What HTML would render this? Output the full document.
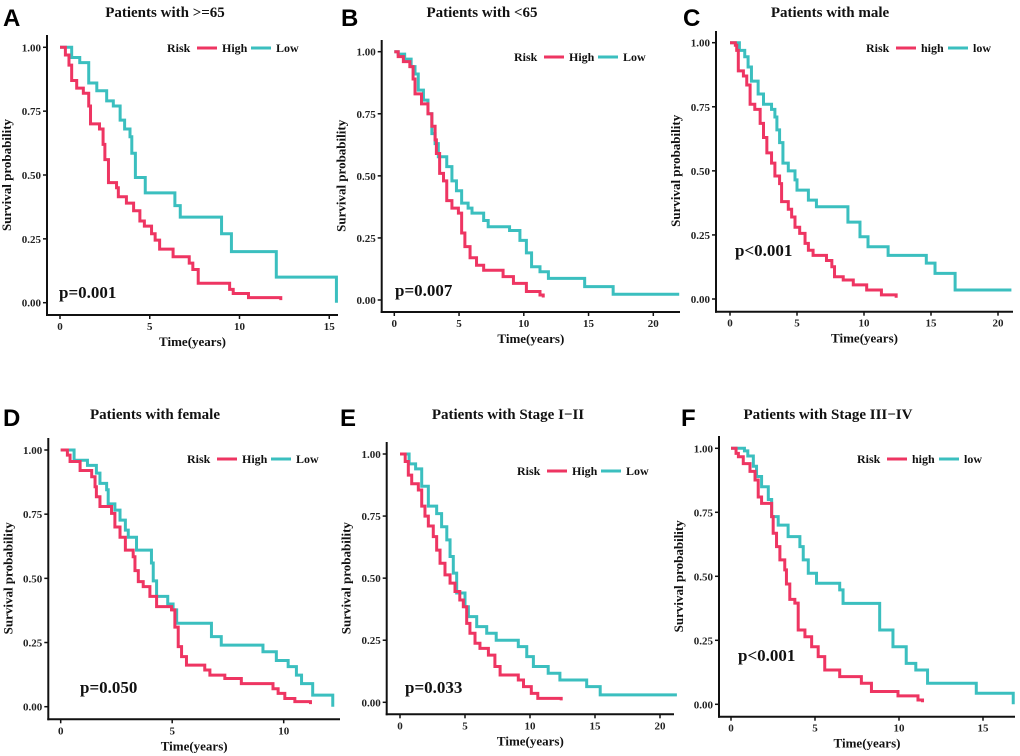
<!DOCTYPE html>
<html><head><meta charset="utf-8">
<style>
html,body{margin:0;padding:0;background:#fff;}
svg{display:block;font-family:"Liberation Serif",serif;}
.tk{font-size:11px;font-weight:bold;fill:#222;}
.ttl{font-size:15px;font-weight:bold;fill:#111;}
.lab{font-size:13px;font-weight:bold;fill:#111;}
.lg{font-size:12px;font-weight:bold;fill:#111;}
.pv{font-size:17px;font-weight:bold;fill:#111;}
.let{font-family:"Liberation Sans",sans-serif;font-size:24px;font-weight:bold;fill:#000;}
</style></head>
<body>
<svg id="fig" width="1020" height="756" viewBox="0 0 1020 756" xmlns="http://www.w3.org/2000/svg"></svg>
<script>
// ---- data (time of drop, survival after drop), last entry = end of follow-up ----
const aHighT=[0,0.3,0.5,0.65,0.93,1.3,1.6,1.7,2.2,2.4,2.5,2.7,3.15,3.25,3.7,4.1,4.45,4.7,5.1,5.3,5.55,6.3,7.2,7.4,7.7,9.45,9.65,10.5,12.3];
const aHighS=[1,0.97,0.93,0.87,0.84,0.82,0.77,0.70,0.68,0.62,0.56,0.47,0.45,0.415,0.39,0.36,0.32,0.30,0.27,0.245,0.21,0.18,0.155,0.13,0.076,0.052,0.036,0.02,0.01];
const aLowT=[0,0.65,1.1,1.6,2.05,2.6,2.97,3.35,3.6,3.9,4.0,4.2,4.75,6.4,6.7,9.0,9.55,12.05,15.4];
const aLowS=[1,0.96,0.94,0.86,0.83,0.79,0.77,0.715,0.68,0.65,0.585,0.49,0.43,0.38,0.335,0.27,0.20,0.10,0];
const bHighT=[0,0.3,0.7,1.2,1.45,1.6,2.1,2.6,2.9,3.15,3.25,3.5,3.8,4.05,4.45,4.95,5.2,5.45,5.85,6.35,6.9,8.4,9.2,10.2,11.25,11.5];
const bHighS=[1,0.98,0.96,0.94,0.89,0.83,0.79,0.75,0.70,0.645,0.59,0.51,0.48,0.40,0.37,0.35,0.27,0.215,0.17,0.14,0.12,0.094,0.067,0.034,0.02,0.01];
const bLowT=[0,0.3,0.8,1.3,1.6,1.85,2.25,2.6,2.9,3.15,3.4,4.05,4.45,4.8,5.2,5.7,6.0,6.9,7.25,8.9,9.7,10.2,10.6,11.25,11.9,14.7,16.9,22];
const bLowS=[1,0.99,0.97,0.94,0.91,0.845,0.805,0.75,0.67,0.63,0.577,0.537,0.48,0.44,0.39,0.37,0.35,0.32,0.295,0.28,0.24,0.19,0.134,0.114,0.087,0.054,0.023,0.023];
const cHighT=[0,0.4,0.5,0.62,1.0,1.25,1.5,1.85,2.25,2.5,2.75,3.1,3.35,3.7,3.85,4.35,4.6,4.85,5.2,5.6,5.85,6.2,7.2,7.6,7.8,8.45,9.2,10.2,11.3,12.4];
const cHighS=[1,0.99,0.97,0.89,0.87,0.835,0.76,0.74,0.685,0.63,0.57,0.53,0.48,0.45,0.38,0.35,0.32,0.28,0.256,0.217,0.19,0.17,0.15,0.126,0.087,0.074,0.055,0.035,0.016,0.005];
const cLowT=[0,0.7,1.1,1.35,1.6,2.1,2.5,3.1,3.35,3.5,3.7,3.95,4.35,4.85,5.0,5.85,6.45,8.8,9.7,10.3,11.8,14.65,15.3,16.8,21];
const cLowS=[1,0.97,0.945,0.905,0.85,0.80,0.76,0.74,0.71,0.66,0.61,0.53,0.50,0.465,0.425,0.386,0.36,0.30,0.243,0.204,0.17,0.14,0.10,0.035,0.035];
const dHighT=[0,0.3,0.42,0.87,1.39,1.54,1.6,1.76,2.28,2.43,2.66,2.9,3.25,3.33,3.48,3.7,4.0,4.3,4.97,5.12,5.27,5.42,5.64,6.46,6.69,7.36,8.1,9.52,9.75,10.05,10.5,11.2];
const dHighS=[1,0.98,0.955,0.92,0.896,0.857,0.818,0.78,0.753,0.70,0.66,0.61,0.584,0.53,0.487,0.468,0.43,0.39,0.377,0.31,0.234,0.195,0.162,0.143,0.123,0.11,0.09,0.07,0.052,0.032,0.02,0.01];
const dLowT=[0,0.6,1.2,1.6,1.76,2.06,2.13,2.43,2.66,2.9,3.03,3.4,4.07,4.15,4.3,4.8,5.04,5.2,6.76,7.2,9.07,9.67,10.2,10.57,10.8,11.3,12.2];
const dLowS=[1,0.96,0.94,0.91,0.87,0.845,0.79,0.766,0.727,0.688,0.66,0.61,0.56,0.49,0.43,0.40,0.377,0.325,0.273,0.24,0.214,0.18,0.156,0.123,0.09,0.045,0];
const eHighT=[0,0.4,0.64,0.9,1.41,1.67,1.92,2.18,2.56,2.82,3.08,3.46,3.85,4.23,4.6,4.87,5.13,5.38,5.77,6.15,6.8,7.3,7.7,9.1,9.5,10.1,10.6,12.4];
const eHighS=[1,0.97,0.915,0.88,0.855,0.79,0.75,0.71,0.667,0.613,0.56,0.513,0.48,0.446,0.412,0.385,0.318,0.278,0.238,0.217,0.19,0.144,0.11,0.09,0.063,0.036,0.016,0.008];
const eLowT=[0,0.7,1.2,1.67,2.18,2.82,3.2,3.6,3.85,4.1,4.36,5.0,5.26,5.9,6.67,7.4,9.1,9.75,10.26,11.4,12.3,14.36,15.4,21.3];
const eLowS=[1,0.96,0.94,0.87,0.79,0.76,0.707,0.654,0.587,0.52,0.44,0.385,0.345,0.305,0.278,0.25,0.224,0.184,0.144,0.117,0.09,0.063,0.03,0.03];
const fHighT=[0,0.3,0.44,0.73,1.13,1.43,1.62,1.82,2.42,2.51,2.71,2.91,3.2,3.3,3.5,3.8,4.0,4.4,4.8,5.19,5.58,6.47,7.76,8.36,9.94,11.13,11.4];
const fHighS=[1,0.98,0.967,0.94,0.91,0.876,0.81,0.785,0.733,0.668,0.616,0.564,0.525,0.47,0.41,0.395,0.29,0.264,0.225,0.186,0.134,0.108,0.082,0.05,0.033,0.017,0.008];
const fLowT=[0,0.8,1.0,1.33,1.52,1.82,2.22,2.42,2.81,3.4,4.1,4.3,4.6,5.09,6.47,6.67,8.85,9.64,10.43,11.0,11.7,14.6,16.8];
const fLowS=[1,0.99,0.97,0.93,0.89,0.85,0.80,0.733,0.70,0.655,0.616,0.564,0.512,0.473,0.447,0.394,0.29,0.225,0.16,0.134,0.082,0.043,0];
const yTicks=[0,0.25,0.5,0.75,1];
const xTicksA=[0,5,10,15], xTicksB=[0,5,10,15,20], xTicksD=[0,5,10];

const panels=[
 {id:'a',letter:'A',title:'Patients with >=65',lx:3,ly:26,tx:165,ty:17,ax:47,ay0:35,axR:338,xa:315,y1:47.3,y0:302.7,x0:60,pxy:17.95,ticks:xTicksA,hi:[aHighT,aHighS],lo:[aLowT,aLowS],leg:[167,52],lg:['High','Low'],pv:'p=0.001',pvx:59,pvy:298},
 {id:'b',letter:'B',title:'Patients with <65',lx:341,ly:26,tx:482,ty:17,ax:381.7,ay0:40,axR:680,xa:312,y1:51.7,y0:300,x0:394.3,pxy:12.95,ticks:xTicksB,hi:[bHighT,bHighS],lo:[bLowT,bLowS],leg:[514,61],lg:['High','Low'],pv:'p=0.007',pvx:395,pvy:296},
 {id:'c',letter:'C',title:'Patients with  male',lx:683,ly:26,tx:830,ty:17,ax:716,ay0:31,axR:1013,xa:311.7,y1:42.7,y0:299,x0:730,pxy:13.4,ticks:xTicksB,hi:[cHighT,cHighS],lo:[cLowT,cLowS],leg:[866,52],lg:['high','low'],pv:'p<0.001',pvx:735,pvy:256},
 {id:'d',letter:'D',title:'Patients with  female',lx:3,ly:426,tx:155,ty:419,ax:48.3,ay0:438,axR:340,xa:719.3,y1:450,y0:706.7,x0:60.7,pxy:22.3,ticks:xTicksD,hi:[dHighT,dHighS],lo:[dLowT,dLowS],leg:[187,463],lg:['High','Low'],pv:'p=0.050',pvx:80,pvy:693},
 {id:'e',letter:'E',title:'Patients with Stage  I\u2212II',lx:340,ly:426,tx:508,ty:419,ax:386.7,ay0:442,axR:674,xa:714.3,y1:454,y0:702.3,x0:400,pxy:13,ticks:xTicksB,hi:[eHighT,eHighS],lo:[eLowT,eLowS],leg:[517,475],lg:['High','Low'],pv:'p=0.033',pvx:405,pvy:693},
 {id:'f',letter:'F',title:'Patients with Stage  III\u2212IV',lx:681,ly:426,tx:828,ty:419,ax:719,ay0:436,axR:1015,xa:716.7,y1:448.3,y0:704.3,x0:731,pxy:16.8,ticks:xTicksA,hi:[fHighT,fHighS],lo:[fLowT,fLowS],leg:[857,463],lg:['high','low'],pv:'p<0.001',pvx:738,pvy:661}
];
const RED='#EE3562', TEAL='#3BBFBF';
const NS='http://www.w3.org/2000/svg';
const fig=document.getElementById('fig');
function mk(tag,attrs,parent,txt){const e=document.createElementNS(NS,tag);for(const k in attrs)e.setAttribute(k,attrs[k]);if(txt!==undefined)e.textContent=txt;(parent||fig).appendChild(e);return e;}

panels.forEach(p=>{
  const g=mk('g',{});
  
  
  const X=t=>p.x0+t*p.pxy, Y=s=>p.y0-(p.y0-p.y1)*s;
  const L=mk('text',{x:p.lx,y:p.ly,class:'let'},g,p.letter);
  
  
  const T=mk('text',{x:p.tx,y:p.ty,class:'ttl','text-anchor':'middle'},g,p.title);
  
  
  const ya=mk('line',{x1:p.ax,y1:p.ay0,x2:p.ax,y2:p.xa+1,stroke:'#111','stroke-width':2},g);
  
  
  const xa=mk('line',{x1:p.ax-1,y1:p.xa,x2:p.axR,y2:p.xa,stroke:'#111','stroke-width':2},g);
  
  
  yTicks.forEach(v=>{
    mk('line',{x1:p.ax-4,x2:p.ax,y1:Y(v),y2:Y(v),stroke:'#111','stroke-width':1.5},g);
    const t=mk('text',{x:p.ax-6,y:Y(v)+4,class:'tk','text-anchor':'end'},g,v.toFixed(2));
    
    
  });
  p.ticks.forEach(v=>{
    mk('line',{x1:X(v),x2:X(v),y1:p.xa,y2:p.xa+4,stroke:'#111','stroke-width':1.5},g);
    const t=mk('text',{x:X(v),y:p.xa+15,class:'tk','text-anchor':'middle'},g,String(v));
    
    
  });
  const yt=mk('text',{x:0,y:0,class:'lab','text-anchor':'middle',transform:`translate(${p.ax-36},${(p.y0+p.y1)/2}) rotate(-90)`},g,'Survival probability');
  
  
  const xt=mk('text',{x:(p.ax+p.axR)/2,y:p.xa+31,class:'lab','text-anchor':'middle'},g,'Time(years)');
  
  
  [[p.lo,TEAL,'low'],[p.hi,RED,'high']].forEach(([d,c,n])=>{
    const tt=d[0], ss=d[1];
    let path=`M${X(tt[0])},${Y(ss[0])}`;
    for(let i=1;i<tt.length;i++){path+=` H${X(tt[i])} V${Y(ss[i])}`;}
    const pe=mk('path',{d:path,fill:'none',stroke:c,'stroke-width':3,'stroke-linejoin':'miter'},g);
    
    
  });
  const [lx,ly]=p.leg;
  const lgG=mk('g',{},g);
  
  
  mk('text',{x:lx,y:ly,class:'lg'},lgG,'Risk');
  mk('line',{x1:lx+30,x2:lx+50,y1:ly-4,y2:ly-4,stroke:RED,'stroke-width':3},lgG);
  mk('text',{x:lx+55,y:ly,class:'lg'},lgG,p.lg[0]);
  const off=p.lg[0]==='High'?84:82;
  mk('line',{x1:lx+off,x2:lx+off+20,y1:ly-4,y2:ly-4,stroke:TEAL,'stroke-width':3},lgG);
  mk('text',{x:lx+off+25,y:ly,class:'lg'},lgG,p.lg[1]);
  const pv=mk('text',{x:p.pvx,y:p.pvy,class:'pv'},g,p.pv);
  
  
});
</script>
</body></html>
